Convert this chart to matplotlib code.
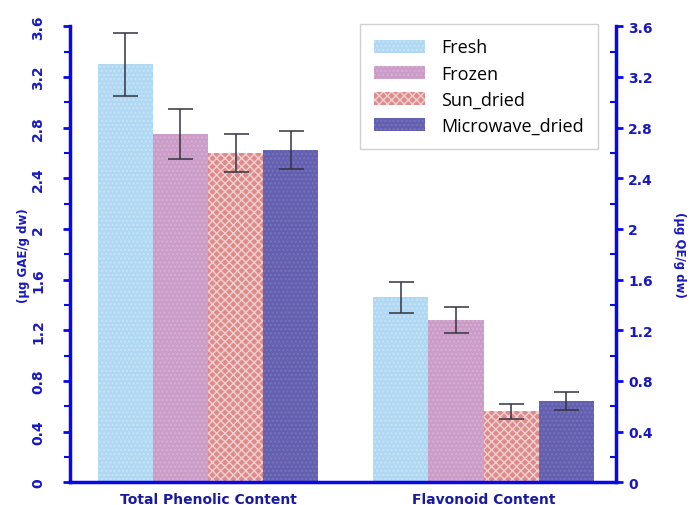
import numpy as np
import matplotlib.pyplot as plt
from matplotlib.ticker import MultipleLocator

groups = ['Total Phenolic Content', 'Flavonoid Content']
treatments = ['Fresh', 'Frozen', 'Sun_dried', 'Microwave_dried']
means = {
    'Fresh': [3.30, 1.46],
    'Frozen': [2.75, 1.28],
    'Sun_dried': [2.60, 0.56],
    'Microwave_dried': [2.62, 0.64],
}
errors = {
    'Fresh': [0.25, 0.12],
    'Frozen': [0.20, 0.10],
    'Sun_dried': [0.15, 0.06],
    'Microwave_dried': [0.15, 0.07],
}
tick_labels = ['0', '0.4', '0.8', '1.2', '1.6', '2', '2.4', '2.8', '3.2', '3.6']

colors = ['#b0d8f3', '#cb9cc8', '#dc8c8c', '#6460b0']
hatches = ['....', '....', 'xxxx', '....']
hatch_colors = ['#c8e4f8', '#d6b0d3', '#f3d0d0', '#7773bd']

axis_blue = '#0808e8'
label_blue = '#1818c0'

fig = plt.figure(figsize=(6.95, 5.06), dpi=100)
ax = fig.add_axes([0.101, 0.045, 0.785, 0.901])

x = np.arange(len(groups))
width = 0.2
for i, t in enumerate(treatments):
    pos = x + (i - 1.5) * width
    ax.bar(pos, means[t], width, color=colors[i], hatch=hatches[i],
           edgecolor=hatch_colors[i], linewidth=0, label=t)
    ax.errorbar(pos, means[t], yerr=errors[t], fmt='none', ecolor='#333340',
                elinewidth=1.1, capsize=9, capthick=1.1)

ax.set_xlim(-0.5, 1.48)
ax.set_ylim(0, 3.6)
ax.set_xticks(x)
ax.set_xticklabels(groups, fontsize=10, fontweight='bold', color='#1a1aa0')
ax.tick_params(axis='x', length=0, pad=7)

ax.set_yticks(np.arange(0, 3.61, 0.4))
ax.yaxis.set_minor_locator(MultipleLocator(0.2))
ax.set_yticklabels(tick_labels, rotation=90, va='center', fontsize=10,
                   fontweight='bold', color=label_blue)
ax.tick_params(axis='y', which='major', direction='out', length=5, width=2,
               color=axis_blue, pad=13)
ax.tick_params(axis='y', which='minor', direction='out', length=4, width=1.5, color=axis_blue)
ax.set_ylabel('(µg GAE/g dw)', fontsize=8.5, fontweight='bold', color=label_blue, labelpad=1)

for side in ['top', 'right']:
    ax.spines[side].set_visible(False)
for side in ['left', 'bottom']:
    ax.spines[side].set_color(axis_blue)
    ax.spines[side].set_linewidth(2.5)

# right-hand axis for the flavonoid scale
ax2 = ax.twinx()
ax2.set_ylim(0, 3.6)
ax2.set_yticks(np.arange(0, 3.61, 0.4))
ax2.set_yticklabels(tick_labels, fontsize=10, fontweight='bold', color=label_blue)
ax2.yaxis.set_minor_locator(MultipleLocator(0.2))
ax2.tick_params(axis='y', which='major', direction='out', length=5, width=2,
                color=axis_blue, pad=4)
ax2.tick_params(axis='y', which='minor', direction='in', length=4, width=1.5, color=axis_blue)
ax2.set_ylabel('(µg QE/g dw)', fontsize=8.5, fontweight='bold', color=label_blue,
               rotation=270, labelpad=24)
for side in ['top', 'left', 'bottom']:
    ax2.spines[side].set_visible(False)
ax2.spines['right'].set_color(axis_blue)
ax2.spines['right'].set_linewidth(2.5)

leg = ax.legend(loc='upper right', bbox_to_anchor=(0.968, 1.005),
                handlelength=2.8, handleheight=0.75, labelspacing=0.45,
                handletextpad=0.9, borderpad=0.8, borderaxespad=0.0,
                fancybox=False, framealpha=1,
                prop={'family': 'Open Sans', 'size': 13})
leg.get_frame().set_edgecolor('#d0d0d0')
leg.get_frame().set_linewidth(1)

fig.savefig('out.png', dpi=100)
